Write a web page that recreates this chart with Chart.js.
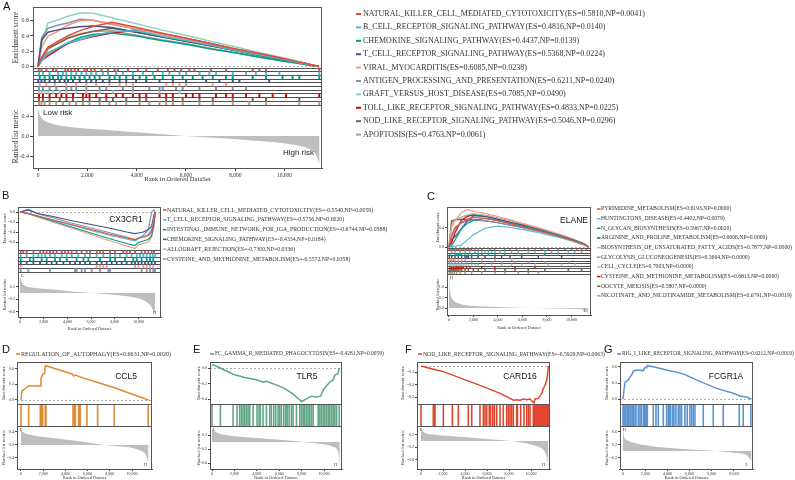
<!DOCTYPE html>
<html><head><meta charset="utf-8"><title>GSEA</title>
<script src="https://cdn.jsdelivr.net/npm/chart.js@4.4.1/dist/chart.umd.min.js"></script>
<style>
html,body{margin:0;padding:0;background:#fff;}
#fig{position:relative;width:795px;height:480px;overflow:hidden;background:#fff;}
#fig canvas{position:absolute;}
</style></head><body>
<div id="fig">
<canvas id="cA" width="660" height="190" style="left:0px;top:0px"></canvas>
<canvas id="cB" width="395" height="147" style="left:0px;top:188px"></canvas>
<canvas id="cC" width="400" height="147" style="left:395px;top:188px"></canvas>
<canvas id="cD" width="190" height="140" style="left:0px;top:340px"></canvas>
<canvas id="cE" width="210" height="140" style="left:190px;top:340px"></canvas>
<canvas id="cF" width="215" height="140" style="left:400px;top:340px"></canvas>
<canvas id="cG" width="195" height="140" style="left:600px;top:340px"></canvas>
</div>
<script>
// ===================== DATA =====================
const X_ticks = [0,2000,4000,6000,8000,10000];
// ---- Panel A ----
const A_names = ['NATURAL_KILLER_CELL_MEDIATED_CYTOTOXICITY','B_CELL_RECEPTOR_SIGNALING_PATHWAY','CHEMOKINE_SIGNALING_PATHWAY','T_CELL_RECEPTOR_SIGNALING_PATHWAY','VIRAL_MYOCARDITIS','ANTIGEN_PROCESSING_AND_PRESENTATION','GRAFT_VERSUS_HOST_DISEASE','TOLL_LIKE_RECEPTOR_SIGNALING_PATHWAY','NOD_LIKE_RECEPTOR_SIGNALING_PATHWAY','APOPTOSIS'];
const A_esScore = [0.5810,0.4816,0.4437,0.5368,0.6085,0.6211,0.7085,0.4833,0.5046,0.4763];
const A_np = [0.0041,0.0140,0.0139,0.0224,0.0238,0.0240,0.0490,0.0225,0.0296,0.0061];
const A_esTicks = [0,0.2,0.4,0.6];
const A_rankTicks = [-0.4,-0.2,0,0.2,0.4];
const A_curveRanks = [0,150,400,800,1200,1700,2200,3000,4000,5000,6000,7000,8000,9000,10000,11000,11400];
const A_esNK        = [0,0.12,0.25,0.33,0.40,0.47,0.52,0.58,0.51,0.44,0.37,0.30,0.23,0.17,0.10,0.03,0];
const A_esBCell     = [0,0.08,0.17,0.24,0.31,0.35,0.40,0.46,0.47,0.40,0.34,0.28,0.21,0.15,0.09,0.02,0];
const A_esChemokine = [0,0.09,0.18,0.24,0.31,0.38,0.42,0.44,0.40,0.34,0.29,0.23,0.18,0.12,0.07,0.02,0];
const A_esTCell     = [0,0.35,0.45,0.48,0.50,0.52,0.53,0.51,0.45,0.39,0.33,0.27,0.21,0.15,0.09,0.02,0];
const A_esViral     = [0,0.25,0.40,0.46,0.54,0.60,0.61,0.56,0.49,0.42,0.36,0.29,0.23,0.16,0.09,0.03,0];
const A_esAntigen   = [0,0.38,0.50,0.54,0.57,0.62,0.61,0.55,0.49,0.42,0.36,0.29,0.22,0.16,0.09,0.03,0];
const A_esGraft     = [0,0.30,0.57,0.61,0.66,0.70,0.70,0.64,0.56,0.48,0.41,0.33,0.26,0.18,0.11,0.03,0];
const A_esToll      = [0,0.08,0.14,0.22,0.30,0.35,0.39,0.44,0.48,0.43,0.37,0.30,0.23,0.17,0.10,0.03,0];
const A_esNOD       = [0,0.12,0.24,0.30,0.37,0.42,0.46,0.50,0.45,0.39,0.33,0.27,0.21,0.14,0.08,0.02,0];
const A_esApoptosis = [0,0.10,0.22,0.31,0.37,0.43,0.46,0.47,0.41,0.35,0.30,0.24,0.18,0.12,0.07,0.02,0];
const A_hitsNK        = [30,140,340,610,740,1110,1220,1350,1490,1620,1890,1990,2160,2300,2570,2840,3110,3240,3650,4050,4390,4860,5270,5540,5810,6140,6350,7020,7630,8710,8980,9250,11410];
const A_hitsBCell     = [40,200,470,810,1010,1150,1350,1550,1760,1960,2160,2360,2630,2840,3170,3440,3850,4250,4660,5060,5330,5740,6010,6550,6950,7220,7900,8440,8840,9250,9790,11410];
const A_hitsChemokine = [70,270,470,610,810,950,1150,1350,1490,1690,1890,2090,2300,2500,2900,3110,3310,3580,3850,4120,4390,4730,5060,5470,5870,6280,6680,7090,7630,7900,8710,9250,9920,10330,10600,11410];
const A_hitsTCell     = [10,140,270,470,680,880,1080,1220,1420,1690,1960,2160,2360,2630,2900,3310,3580,3980,4390,4930,5470,6010,6820,7360,7900,8170,9380];
const A_hitsViral     = [70,340,680,1150,1550,1960,2360,2900,3310,3580,3850,5200,5470,5740,6010,7090,7630];
const A_hitsAntigen   = [40,200,470,740,1150,1350,1550,1960,2500,2770,3440,3850,4520,4930,5060,5600,5870,6550,7220,7900,8440];
const A_hitsGraft     = [40,140,270,410,610,880,1150,1550,1960,2500,3040,3850,4930,5740];
const A_hitsToll      = [40,200,470,740,950,1150,1420,1820,1960,2090,2360,2770,3170,3440,3850,4120,4390,4930,5200,5470,6010,6280,6550,7220,7630,7900,8440,8980,9520,10060,11410];
const A_hitsNOD       = [40,200,470,880,1150,1420,1820,2090,2500,2770,3040,3580,4120,4390,5200,5470,5870,6550,7090,7900,8710,9250,10600];
const A_hitsApoptosis = [40,140,270,470,740,1010,1280,1550,1820,2090,2500,2900,3170,3580,4120,4520,4930,5200,5470,5870,6550,7090,7900,8570,9250,10600,11410];
const A_rankPos = [0,70,200,470,1150,2500,3850,5200,6000,7900,9250,10330,11000,11270,11420];
const A_rankVal = [0.56,0.43,0.33,0.26,0.19,0.13,0.08,0.03,0.0,-0.06,-0.11,-0.17,-0.26,-0.37,-0.56];

// ---- Panel B (CX3CR1) ----
const B_names = ['NATURAL_KILLER_CELL_MEDIATED_CYTOTOXICITY','T_CELL_RECEPTOR_SIGNALING_PATHWAY','INTESTINAL_IMMUNE_NETWORK_FOR_IGA_PRODUCTION','CHEMOKINE_SIGNALING_PATHWAY','ALLOGRAFT_REJECTION','CYSTEINE_AND_METHIONINE_METABOLISM'];
const B_esScore = [-0.5540,-0.5756,-0.6744,-0.4334,-0.7300,-0.5572];
const B_np = [0.0059,0.0020,0.0388,0.0184,0.0336,0.0358];
const B_esTicks = [-0.6,-0.4,-0.2,0];
const B_rankTicks = [-0.6,-0.4,-0.2,0,0.2,0.4];
const B_curveRanks = [0,700,1500,3000,4500,6000,7500,9000,9700,10000,10400,10830,11110,11300,11420];
const B_esNK         = [0,-0.03,-0.08,-0.17,-0.26,-0.35,-0.44,-0.52,-0.554,-0.52,-0.50,-0.47,-0.40,-0.20,0];
const B_esTCell      = [0,-0.03,-0.08,-0.18,-0.27,-0.37,-0.46,-0.54,-0.576,-0.53,-0.50,-0.45,-0.35,-0.15,0];
const B_esIntestinal = [0,-0.03,-0.09,-0.20,-0.31,-0.42,-0.53,-0.63,-0.674,-0.61,-0.58,-0.55,-0.47,-0.25,0];
const B_esChemokine  = [0,0.04,-0.03,-0.10,-0.18,-0.25,-0.32,-0.40,-0.433,-0.42,-0.40,-0.35,-0.29,-0.06,0];
const B_esAllograft  = [0,-0.04,-0.10,-0.22,-0.33,-0.45,-0.57,-0.68,-0.73,-0.66,-0.63,-0.60,-0.50,-0.30,0];
const B_esCysteine   = [0,0.05,-0.04,-0.13,-0.23,-0.32,-0.41,-0.50,-0.557,-0.52,-0.47,-0.35,0.0,0.04,0];
const B_hitsNK         = [60,280,560,1130,1690,1970,2250,2530,2810,3090,3520,3800,4080,4360,4780,5200,5630,5910,6470,6750,7030,7600,8020,8720,9000,9280,9710,10270,10550,10830,11110,11310];
const B_hitsTCell      = [60,560,1130,1550,1830,2110,2530,2950,3520,3940,4360,4920,5490,5910,6470,7030,7600,8020,8440,9000,9420,9850,10130,10410,10690,10970,11200,11390];
const B_hitsIntestinal = [60,840,1130,1830,2250,2950,3380,3940,4780,5350,5770,6750,7600,8020,8860,9560,9850,10270,10690,10970,11250];
const B_hitsChemokine  = [60,560,1130,1690,2250,2670,3090,3660,4220,4640,5060,5490,5910,6470,6890,7310,7740,8160,8580,9000,9420,9710,9990,10270,10550,10830,11110,11390];
const B_hitsAllograft  = [60,6470,6750,7030,7310,9710,9990,10410,10690,10970,11250];
const B_hitsCysteine   = [60,700,2530,4640,4780,5200,5490,6050,6750,7460,7600,10270,10690,10970,11250,11390];
const B_rankPos = [0,140,420,1130,2530,3940,5350,6190,8160,9560,10410,10970,11390];
const B_rankVal = [0.52,0.36,0.23,0.17,0.12,0.07,0.03,0.0,-0.06,-0.13,-0.22,-0.38,-0.65];

// ---- Panel C (ELANE) ----
const C_names = ['PYRIMIDINE_METABOLISM','HUNTINGTONS_DISEASE','N_GLYCAN_BIOSYNTHESIS','ARGININE_AND_PROLINE_METABOLISM','BIOSYNTHESIS_OF_UNSATURATED_FATTY_ACIDS','GLYCOLYSIS_GLUCONEOGENESIS','CELL_CYCLE','CYSTEINE_AND_METHIONINE_METABOLISM','OOCYTE_MEIOSIS','NICOTINATE_AND_NICOTINAMIDE_METABOLISM'];
const C_esScore = [0.6193,0.4402,0.5967,0.6606,0.7877,0.5664,0.7003,0.6813,0.5807,0.6791];
const C_np = [0.0000,0.0079,0.0020,0.0000,0.0000,0.0000,0.0000,0.0000,0.0000,0.0019];
const C_esTicks = [0,0.2,0.4,0.6];
const C_rankTicks = [0,0.5,1.0];
const C_curveRanks = [0,200,500,1000,1500,2000,3000,4000,5000,6000,7000,8000,9000,10000,11000,11400];
const C_esPyrimidine  = [0,0.20,0.38,0.52,0.58,0.62,0.60,0.55,0.49,0.43,0.37,0.30,0.23,0.15,0.06,0];
const C_esHuntingtons = [0,0.01,0.02,0.04,0.15,0.26,0.40,0.44,0.41,0.37,0.32,0.26,0.20,0.13,0.05,0];
const C_esNglycan     = [0,0.02,0.15,0.38,0.50,0.56,0.60,0.56,0.50,0.44,0.38,0.31,0.24,0.16,0.07,0];
const C_esArginine    = [0,0.15,0.22,0.38,0.55,0.66,0.64,0.58,0.52,0.46,0.39,0.32,0.24,0.16,0.07,0];
const C_esBiosynth    = [0,0.40,0.55,0.72,0.79,0.75,0.70,0.64,0.57,0.50,0.43,0.35,0.27,0.18,0.08,0];
const C_esGlycolysis  = [0,0.25,0.42,0.50,0.55,0.57,0.55,0.51,0.46,0.41,0.35,0.29,0.22,0.15,0.06,0];
const C_esCellCycle   = [0,0.45,0.58,0.63,0.68,0.70,0.66,0.60,0.54,0.47,0.41,0.34,0.26,0.17,0.07,0];
const C_esCysteine    = [0,0.08,0.30,0.56,0.64,0.68,0.66,0.60,0.54,0.47,0.40,0.33,0.25,0.17,0.07,0];
const C_esOocyte      = [0,0.55,0.57,0.58,0.58,0.57,0.55,0.51,0.46,0.41,0.35,0.29,0.22,0.14,0.05,0];
const C_esNicotinate  = [0,0.50,0.58,0.62,0.66,0.68,0.65,0.59,0.53,0.46,0.40,0.33,0.25,0.17,0.07,0];
const C_hitsPyrimidine  = [30,160,270,380,490,630,760,900,1030,1170,1310,1440,1580,1710,1850,2120,2390,2670,3350,3750,4570,4980,5520,6470,7020,7560,8110,8920,9470,10010,10420,10830,11230];
const C_hitsHuntingtons = [220,490,900,1310,1710,2120,2390,2670,2940,3210,3480,3750,4160,4570,5110,5660,6470,7020,7830,8380,8920,9740,10280,10830];
const C_hitsNglycan     = [80,490,630,760,900,1030,1310,1580,1850,2390,2670,3210,3750,4570,5930,7830];
const C_hitsArginine    = [30,220,490,760,1030,1310,1440,1580,1850,2390,2940,3750,4300,4980,5930,7290,9190];
const C_hitsBiosynth    = [30,110,220,350,490,760,1030,1310,1850,2670,3750,5110];
const C_hitsGlycolysis  = [30,220,490,760,1030,1440,1850,2670,3480,4300,5390,6470,7830,9740];
const C_hitsCellCycle   = [30,80,160,250,330,410,490,600,710,820,930,1030,1170,1310,1440,1580,1850,2120,2390,2940,3480,4300,5110,5930,7020,8110,9190,10280];
const C_hitsCysteine    = [80,220,350,490,630,760,900,1030,1170,1440,1710,2670,3750,5390,7020];
const C_hitsOocyte      = [30,80,160,250,330,410,490,570,650,760,900,1030,1310,1580,1990,2390,2940,3750,4570,5390,6470,7830,9740,10830];
const C_hitsNicotinate  = [30,160,270,440,630,900,1310,1850,2670,3750,4570,5660,6470,7290];
const C_rankPos = [0,40,100,200,330,600,900,1500,2800,4500,6900,9000,10500,11100,11350];
const C_rankVal = [1.55,1.10,0.75,0.50,0.38,0.26,0.19,0.12,0.07,0.04,0.0,-0.02,-0.05,-0.10,-0.24];

// ---- Panel D (CCL5) ----
const D_name = 'REGULATION_OF_AUTOPHAGY'; const D_esScore = 0.6631; const D_np = 0.0020;
const D_esTicks = [0,0.1,0.2,0.3,0.4,0.5,0.6];
const D_rankTicks = [-0.4,-0.2,0,0.2,0.4];
const D_curveRanks = [0,90,390,690,1740,1800,1980,2130,2190,4590,4740,4890,5640,7140,8340,11490];
const D_curveES    = [0,0.18,0.22,0.27,0.27,0.42,0.50,0.51,0.663,0.50,0.46,0.48,0.42,0.32,0.24,0];
const D_hits = [0,690,1740,1800,1860,1950,2190,2250,4680,4800,4890,5190,5280,5340,5940,6900,8400,11460];
const D_rankPos = [0,60,240,1140,2640,4140,5640,7500,9000,10140,10740,11190,11490];
const D_rankVal = [0.52,0.45,0.38,0.29,0.22,0.16,0.10,0.0,-0.05,-0.10,-0.17,-0.28,-0.55];

// ---- Panel E (TLR5) ----
const E_name = 'FC_GAMMA_R_MEDIATED_PHAGOCYTOSIS'; const E_esScore = -0.4281; const E_np = 0.0059;
const E_esTicks = [-0.4,-0.3,-0.2,-0.1,0];
const E_rankTicks = [-0.6,-0.4,-0.2,0,0.2,0.4];
const E_curveRanks = [0,90,600,1877,2920,3963,4560,4857,6347,7241,7986,8880,9327,9685,9983,10519,10817,10966,11264,11354];
const E_curveES    = [0.03,0.04,0.01,-0.08,-0.12,-0.15,-0.18,-0.17,-0.25,-0.33,-0.428,-0.36,-0.37,-0.36,-0.27,-0.18,-0.15,-0.09,-0.07,0.0];
const E_hits = [0,750,1880,2240,2470,2620,2770,2920,3070,3220,3370,3670,4020,4200,4320,4560,4860,5160,5300,5510,5690,5900,6050,6200,6410,6590,6710,6880,7090,7240,7540,7840,7990,8140,8280,8430,8580,8730,8880,9030,9480,9630,9770,9920,10070,10220,10370,10520,10670,10820,10970,11120,11350];
const E_rankPos = [0,60,240,1280,3370,6350,7840,9330,10820,11260,11410];
const E_rankVal = [0.42,0.36,0.30,0.20,0.13,0.06,0.02,-0.04,-0.13,-0.28,-0.62];

// ---- Panel F (CARD16) ----
const F_name = 'NOD_LIKE_RECEPTOR_SIGNALING_PATHWAY'; const F_esScore = -0.5929; const F_np = 0.0063;
const F_esTicks = [-0.5,-0.4,-0.3,-0.2,-0.1,0];
const F_rankTicks = [-0.6,-0.4,-0.2,0,0.2,0.4];
const F_curveRanks = [0,1121,2030,4151,5666,7181,8090,8393,8696,8999,9302,9605,9908,10272,10363,10666,10969,11120,11272,11423,11514,11575];
const F_curveES    = [0,-0.05,-0.09,-0.23,-0.33,-0.44,-0.52,-0.55,-0.54,-0.55,-0.53,-0.54,-0.53,-0.593,-0.53,-0.52,-0.44,-0.36,-0.31,-0.23,-0.12,0];
const F_hits = [0,1120,1210,1270,2030,2850,3390,4300,4610,5360,5670,5820,5970,6210,6330,6520,6670,6880,7180,7480,7790,7940,8090,8240,8390,8700,8760,9060,9360,9610,9760,9910,10210,10300,10390,10480,10580,10670,10760,10850,10940,11030,11120,11210,11300,11390,11480,11570];
const F_rankPos = [0,60,210,1120,4150,7180,8700,10210,11120,11420,11570];
const F_rankVal = [0.45,0.38,0.29,0.21,0.12,0.03,-0.02,-0.13,-0.28,-0.49,-0.80];

// ---- Panel G (FCGR1A) ----
const G_name = 'RIG_I_LIKE_RECEPTOR_SIGNALING_PATHWAY'; const G_esScore = 0.6212; const G_np = 0.0019;
const G_esTicks = [0,0.1,0.2,0.3,0.4,0.5,0.6];
const G_rankTicks = [-0.2,0,0.2,0.4,0.6];
const G_curveRanks = [0,90,180,480,630,780,930,1230,1830,1980,2130,2190,2730,3930,5430,6930,8430,9930,10530,11130,11580];
const G_curveES    = [0,0.17,0.31,0.36,0.41,0.45,0.52,0.54,0.53,0.59,0.58,0.621,0.60,0.54,0.47,0.33,0.20,0.11,0.06,0.04,0];
const G_hits = [0,90,180,270,390,510,630,720,840,930,1080,1170,1380,1530,1650,1830,1920,1980,2070,2130,2190,2730,2970,3180,3630,3930,4080,4170,4290,4470,4590,4770,4980,5130,5280,5580,5790,6030,6180,6330,6480,7230,8130,9030,10470,10830,11520];
const G_rankPos = [0,90,330,930,2430,3930,6930,8430,9930,11130,11580];
const G_rankVal = [0.66,0.45,0.34,0.26,0.16,0.10,0.03,0.0,-0.05,-0.12,-0.33];

// ===================== STYLE / RENDER =====================
const SERIF = 'Liberation Serif', SANS = 'Liberation Sans';
const NPG = ['#E64B35','#4DBBD5','#00A087','#3C5488','#F39B7F','#8491B4','#91D1C2','#DC0000','#7E6148','#B09C85'];
Chart.defaults.font.family = SERIF;
Chart.defaults.color = '#333';

function pts(xs, ys) { return xs.map((x, i) => ({ x: x, y: ys[i] })); }
function fmtK(v) { return String(Math.round(v)).replace(/\B(?=(\d{3})+(?!\d))/g, ','); }
function fmt1(v) { return Math.abs(v) < 1e-9 ? '0.0' : v.toFixed(1); }
function lab(n, es, np) { return n + '(ES=' + es.toFixed(4) + ',NP=' + np.toFixed(4) + ')'; }
function setTicks(arr) { return s => { s.ticks = arr.map(v => ({ value: v })); }; }

function makeDecor(d) {
  return {
    id: 'decor',
    beforeDatasetsDraw(chart) {
      const ca = chart.chartArea, ys = chart.scales.yES, ctx = chart.ctx;
      const y0 = Math.round(ys.getPixelForValue(0)) + 0.5;
      ctx.save(); ctx.strokeStyle = '#9a9a9a'; ctx.lineWidth = 0.8; ctx.setLineDash([2, 2]);
      ctx.beginPath(); ctx.moveTo(ca.left, y0); ctx.lineTo(ca.right, y0); ctx.stroke(); ctx.restore();
    },
    afterDraw(chart) {
      const ctx = chart.ctx, ca = chart.chartArea;
      ctx.save();
      ctx.strokeStyle = '#555'; ctx.lineWidth = 1;
      ['yES', 'yHit', 'yRank'].forEach(id => {
        const s = chart.scales[id];
        ctx.strokeRect(Math.round(ca.left) + 0.5, Math.round(s.top) + 0.5, Math.round(ca.right - ca.left) - 1, Math.round(s.bottom - s.top));
      });
      ctx.fillStyle = '#111'; ctx.textAlign = 'left'; ctx.textBaseline = 'alphabetic';
      ctx.font = d.letterSize + 'px "' + SANS + '"';
      ctx.fillText(d.letter, d.lx, d.ly);
      if (d.gene) {
        ctx.font = d.gene.size + 'px "' + SANS + '"'; ctx.textAlign = 'center'; ctx.textBaseline = 'middle';
        ctx.fillStyle = '#111'; ctx.fillText(d.gene.text, d.gene.x, d.gene.y);
      }
      const L = d.legend;
      ctx.textAlign = 'left'; ctx.textBaseline = 'middle';
      L.items.forEach((it, i) => {
        const y = L.y + i * L.dy;
        let size = L.size;
        ctx.font = size + 'px "' + SERIF + '"';
        if (L.fitW) { size = size * L.fitW / ctx.measureText(it.text).width; ctx.font = size.toFixed(2) + 'px "' + SERIF + '"'; }
        ctx.fillStyle = it.color; ctx.fillRect(L.x, y - L.dh / 2, L.dw, L.dh);
        ctx.fillStyle = '#333'; ctx.fillText(it.text, L.tx, y);
      });
      const r = chart.scales.yRank;
      ctx.font = d.lh.size + 'px "' + d.lh.ff + '"'; ctx.fillStyle = '#222'; ctx.textBaseline = 'middle';
      ctx.textAlign = 'left'; ctx.fillText(d.lh.lo, ca.left + d.lh.loDx, r.top + d.lh.loDy);
      ctx.textAlign = 'right'; ctx.fillText(d.lh.hi, ca.right - d.lh.hiDx, r.bottom - d.lh.hiDy);
      ctx.restore();
    }
  };
}

function gsea(id, g, sets, rank, decor) {
  const n = sets.length;
  const ds = [];
  sets.forEach(s => ds.push({ data: pts(s.cx, s.cy), yAxisID: 'yES', borderColor: s.color, borderWidth: g.lw, pointRadius: 0, fill: false, tension: 0 }));
  sets.forEach((s, i) => ds.push({
    data: s.hits.map(h => ({ x: h, y: i + 0.5 })), yAxisID: 'yHit', showLine: false,
    pointStyle: 'line', pointRotation: 90,
    pointRadius: c => { const sc = c.chart.scales.yHit; return sc ? (sc.bottom - sc.top) / n / 2 : 1; },
    pointBorderWidth: g.hw, pointBorderColor: s.color, pointBackgroundColor: s.color
  }));
  ds.push({ data: pts(rank.x, rank.y), yAxisID: 'yRank', borderWidth: 0, borderColor: 'rgba(0,0,0,0)', backgroundColor: '#BEBEBE', fill: 'origin', pointRadius: 0, cubicInterpolationMode: 'monotone' });
  const xTickFont = { family: SERIF, size: g.xtf };
  const yTickFont = { family: SERIF, size: g.ytf };
  const xTitleFont = { family: SERIF, size: g.xttf };
  const yTitleFont = { family: SERIF, size: g.yttf };
  const gridY = { drawOnChartArea: false, tickLength: g.tl, color: '#444' };
  const yAx = (extra) => Object.assign({ type: 'linear', position: 'left', stack: 'gsea', afterFit: s => { s.width = g.yW; } }, extra);
  return new Chart(document.getElementById(id), {
    type: 'line',
    data: { datasets: ds },
    options: {
      responsive: false, devicePixelRatio: 1, animation: false, events: [],
      layout: { padding: g.pad },
      scales: {
        x: { type: 'linear', min: g.xr[0], max: g.xr[1], afterFit: s => { s.height = g.xH; }, afterBuildTicks: setTicks(X_ticks),
          ticks: { autoSkip: false, maxRotation: 0, padding: 1, font: xTickFont, color: '#333', callback: v => fmtK(v) },
          grid: { drawOnChartArea: false, tickLength: g.tl, color: '#444' }, border: { color: '#444' },
          title: { display: true, text: g.xTitle, font: xTitleFont, color: '#333', padding: 0 } },
        yES: yAx({ weight: 3, stackWeight: g.wt[0], min: g.es[0], max: g.es[1], afterBuildTicks: setTicks(g.esT),
          ticks: { padding: 1, font: yTickFont, color: '#333', callback: v => fmt1(v) },
          grid: gridY, border: { color: '#444' },
          title: { display: true, text: 'Enrichment score', font: yTitleFont, color: '#333', padding: 0 } }),
        yHit: yAx({ weight: 2, stackWeight: g.wt[1], min: 0, max: n, reverse: true,
          ticks: { display: false, stepSize: 1 }, grid: { color: '#222', lineWidth: 0.8, drawTicks: false }, border: { color: '#444' } }),
        yRank: yAx({ weight: 1, stackWeight: g.wt[2], min: g.rk[0], max: g.rk[1], afterBuildTicks: setTicks(g.rkT),
          ticks: { padding: 1, font: yTickFont, color: '#333', callback: v => fmt1(v) },
          grid: gridY, border: { color: '#444' },
          title: { display: true, text: 'Ranked list metric', font: yTitleFont, color: '#333', padding: 0 } })
      },
      plugins: { legend: { display: false }, tooltip: { enabled: false } }
    },
    plugins: [makeDecor(decor)]
  });
}

function multiSets(names, curveX, curves, hits, colors) {
  return names.map((nm, i) => ({ color: colors[i], cx: curveX, cy: curves[i], hits: hits[i] }));
}
function legendItems(names, es, np, colors) {
  return names.map((nm, i) => ({ text: lab(nm, es[i], np[i]), color: colors[i] }));
}

// ---- A ----
const A_curves = [A_esNK, A_esBCell, A_esChemokine, A_esTCell, A_esViral, A_esAntigen, A_esGraft, A_esToll, A_esNOD, A_esApoptosis];
const A_hits = [A_hitsNK, A_hitsBCell, A_hitsChemokine, A_hitsTCell, A_hitsViral, A_hitsAntigen, A_hitsGraft, A_hitsToll, A_hitsNOD, A_hitsApoptosis];
gsea('cA',
  { pad: { left: 12, top: 7, right: 338, bottom: 7 }, yW: 21, xH: 15, xr: [-203, 11521], es: [-0.02, 0.78], esT: A_esTicks, rk: [-0.64, 0.62], rkT: A_rankTicks, wt: [61, 37, 63],
    xtf: 5.5, ytf: 6, xttf: 6.6, yttf: 7.3, tl: 3, lw: 1.5, hw: 2, xTitle: 'Rank in Ordered DataSet' },
  multiSets(A_names, A_curveRanks, A_curves, A_hits, NPG),
  { x: A_rankPos, y: A_rankVal },
  { letter: 'A', lx: 3, ly: 10, letterSize: 11, gene: null,
    legend: { x: 356, tx: 363, y: 14, dy: 13.4, size: 8, dw: 5, dh: 2, items: legendItems(A_names, A_esScore, A_np, NPG) },
    lh: { lo: 'Low risk', hi: 'High risk', size: 8, ff: SANS, loDx: 10, loDy: 8, hiDx: 8, hiDy: 15 } });

// ---- B ----
const B_curves = [B_esNK, B_esTCell, B_esIntestinal, B_esChemokine, B_esAllograft, B_esCysteine];
const B_hits = [B_hitsNK, B_hitsTCell, B_hitsIntestinal, B_hitsChemokine, B_hitsAllograft, B_hitsCysteine];
const B_colors = NPG.slice(0, 6);
gsea('cB',
  { pad: { left: 2, top: 19, right: 234, bottom: 4 }, yW: 16, xH: 14, xr: [-169, 11899], es: [-0.76, 0.1], esT: B_esTicks, rk: [-0.76, 0.67], rkT: B_rankTicks, wt: [43, 22, 45],
    xtf: 4, ytf: 4.2, xttf: 4.4, yttf: 4.3, tl: 2, lw: 1.2, hw: 1.8, xTitle: 'Rank in Ordered Dataset' },
  multiSets(B_names, B_curveRanks, B_curves, B_hits, B_colors),
  { x: B_rankPos, y: B_rankVal },
  { letter: 'B', lx: 2, ly: 11, letterSize: 11, gene: { text: 'CX3CR1', x: 126, y: 32, size: 8.5 },
    legend: { x: 163, tx: 167, y: 22, dy: 9.8, size: 5.8, dw: 3.5, dh: 1.5, items: legendItems(B_names, B_esScore, B_np, B_colors) },
    lh: { lo: 'L', hi: 'H', size: 4, ff: SERIF, loDx: 3, loDy: 4, hiDx: 5, hiDy: 4 } });

// ---- C ----
const C_curves = [C_esPyrimidine, C_esHuntingtons, C_esNglycan, C_esArginine, C_esBiosynth, C_esGlycolysis, C_esCellCycle, C_esCysteine, C_esOocyte, C_esNicotinate];
const C_hits = [C_hitsPyrimidine, C_hitsHuntingtons, C_hitsNglycan, C_hitsArginine, C_hitsBiosynth, C_hitsGlycolysis, C_hitsCellCycle, C_hitsCysteine, C_hitsOocyte, C_hitsNicotinate];
gsea('cC',
  { pad: { left: 40, top: 19, right: 204, bottom: 5 }, yW: 12, xH: 15, xr: [-163, 11592], es: [-0.02, 0.84], esT: C_esTicks, rk: [-0.33, 1.62], rkT: C_rankTicks, wt: [41, 26, 41],
    xtf: 4, ytf: 4.2, xttf: 4.4, yttf: 4.3, tl: 2, lw: 1.2, hw: 1.5, xTitle: 'Rank in Ordered Dataset' },
  multiSets(C_names, C_curveRanks, C_curves, C_hits, NPG),
  { x: C_rankPos, y: C_rankVal },
  { letter: 'C', lx: 32, ly: 12, letterSize: 11, gene: { text: 'ELANE', x: 179, y: 33, size: 8.5 },
    legend: { x: 202, tx: 206, y: 21, dy: 9.65, size: 5.7, dw: 3.5, dh: 1.5, items: legendItems(C_names, C_esScore, C_np, NPG) },
    lh: { lo: 'H', hi: 'L', size: 4, ff: SERIF, loDx: 3, loDy: 4, hiDx: 5, hiDy: 4 } });

// ---- D..G ----
function single(id, g, name, es, np, cx, cy, hits, rx, ry, color, letter, lgd, gene, lo, hi) {
  gsea(id, g, [{ color: color, cx: cx, cy: cy, hits: hits }], { x: rx, y: ry },
    { letter: letter, lx: lgd.lx, ly: 13, letterSize: 11, gene: gene,
      legend: { x: lgd.x, tx: lgd.x + 5, y: 14, dy: 0, size: 6, fitW: lgd.w, dw: 4, dh: 1.6, items: [{ text: lab(name, es, np), color: color }] },
      lh: { lo: lo, hi: hi, size: 4, ff: SERIF, loDx: 3, loDy: 4, hiDx: 5, hiDy: 4 } });
}
const base = { yW: 16, xH: 11, wt: [42, 22, 43], xtf: 4, ytf: 4.2, xttf: 4.4, yttf: 4.8, tl: 2, lw: 1.5, hw: 1.6, xTitle: 'Rank in Ordered Dataset' };
single('cD', Object.assign({}, base, { pad: { left: 1, top: 22, right: 38, bottom: 0 }, xr: [-360, 11800], es: [-0.077, 0.73], esT: D_esTicks, rk: [-0.74, 0.58], rkT: D_rankTicks }),
  D_name, D_esScore, D_np, D_curveRanks, D_curveES, D_hits, D_rankPos, D_rankVal, '#E18A2F', 'D', { lx: 2, x: 16, w: 150 }, { text: 'CCL5', x: 126, y: 37, size: 8.5 }, 'L', 'H');
single('cE', Object.assign({}, base, { yW: 14, pad: { left: 6, top: 22, right: 58, bottom: 0 }, xr: [-179, 11607], es: [-0.46, 0.077], esT: E_esTicks, rk: [-0.77, 0.46], rkT: E_rankTicks }),
  E_name, E_esScore, E_np, E_curveRanks, E_curveES, E_hits, E_rankPos, E_rankVal, '#5FA787', 'E', { lx: 3, x: 20, w: 169 }, { text: 'TLR5', x: 117, y: 37, size: 8.5 }, 'L', 'H');
single('cF', Object.assign({}, base, { yW: 17, pad: { left: 0, top: 22, right: 65, bottom: 0 }, xr: [-364, 11727], es: [-0.61, 0.065], esT: F_esTicks, rk: [-0.89, 0.48], rkT: F_rankTicks }),
  F_name, F_esScore, F_np, F_curveRanks, F_curveES, F_hits, F_rankPos, F_rankVal, '#E2462E', 'F', { lx: 5, x: 18, w: 182 }, { text: 'CARD16', x: 120, y: 37, size: 8.5 }, 'L', 'H');
single('cG', Object.assign({}, base, { pad: { left: 4, top: 22, right: 42, bottom: 0 }, xr: [-270, 11712], es: [-0.09, 0.69], esT: G_esTicks, rk: [-0.56, 0.78], rkT: G_rankTicks }),
  G_name, G_esScore, G_np, G_curveRanks, G_curveES, G_hits, G_rankPos, G_rankVal, '#5A93D2', 'G', { lx: 4, x: 17, w: 172 }, { text: 'FCGR1A', x: 126, y: 37, size: 8.5 }, 'H', 'L');
</script>
</body></html>
